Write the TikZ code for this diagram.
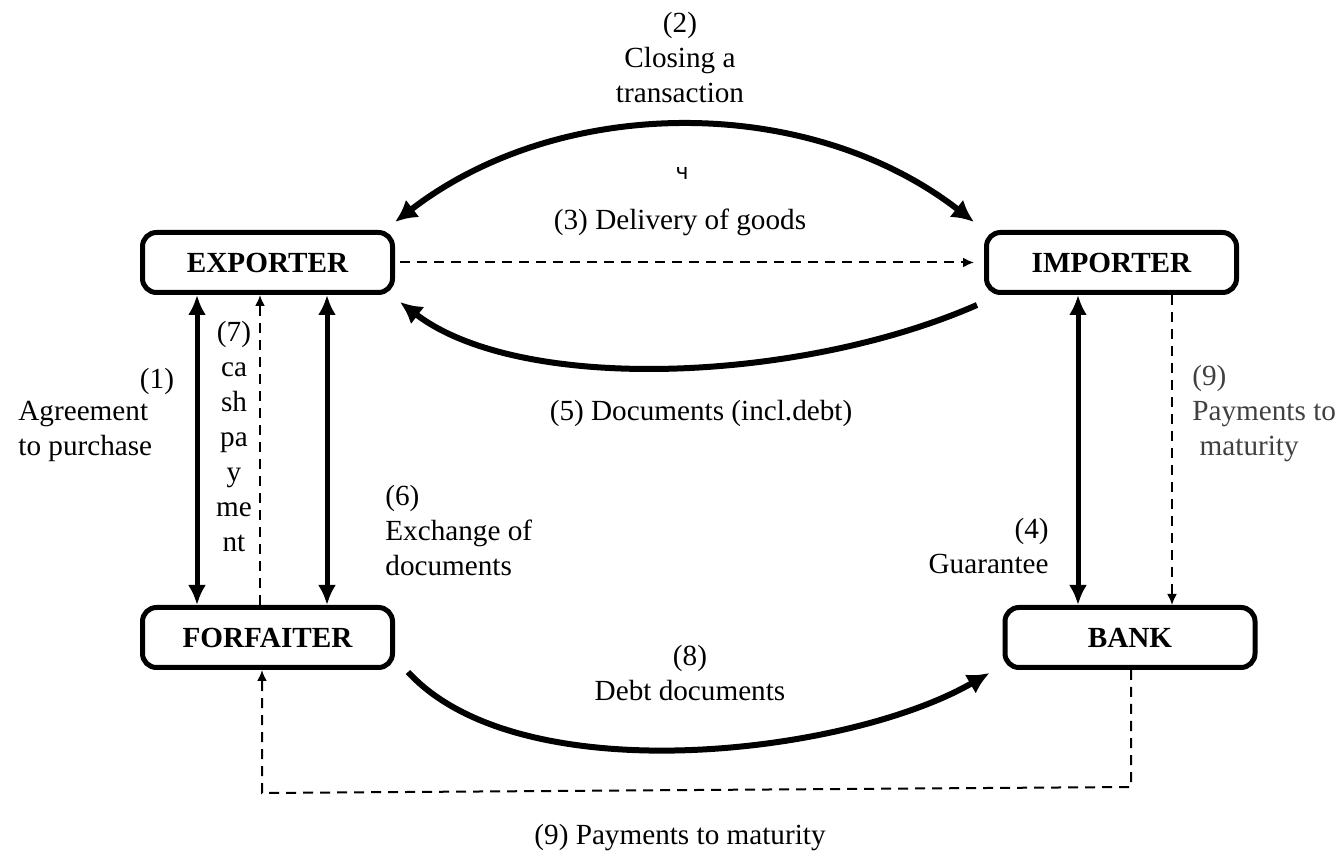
\documentclass[tikz,border=0pt]{standalone}
\usepackage{fontspec}
\setmainfont{Liberation Serif}
\newfontfamily\cyrfont{DejaVu Sans}
\usetikzlibrary{arrows.meta}

\begin{document}
\begin{tikzpicture}[x=0.5pt, y=-0.5pt,
        party/.style={draw, line width=2.5pt, rounded corners=7pt, minimum width=125pt, minimum height=30pt, font=\fontsize{14.6}{17.5}\selectfont\bfseries},
        lbl/.style={font=\fontsize{14.6}{17.5}\selectfont, inner sep=0pt},
        flow/.style={line width=3pt, -{Latex[length=11pt, width=11pt]}},
        link/.style={line width=2.5pt, {Latex[length=10pt, width=9pt]}-{Latex[length=10pt, width=9pt]}},
        pay/.style={line width=1pt, dash pattern=on 5pt off 3.5pt, -{Latex[length=5.5pt, width=5pt]}}]
            \useasboundingbox (0,0) rectangle (1338,854);
            % the four parties
            \node[party] (exp) at (267.5,262.5) {EXPORTER};
            \node[party] (imp) at (1111.5,262.5) {IMPORTER};
            \node[party] (forf) at (267.5,637.5) {FORFAITER};
            \node[party] (bank) at (1130,637.5) {BANK};
            % flows between exporter and importer
            \draw[flow, {Latex[length=11pt, width=11pt]}-{Latex[length=11pt, width=11pt]}] ([yshift=4pt]exp.north east) .. controls +(166,-128) and +(-165,-128) .. ([xshift=-5pt, yshift=4pt]imp.north west);
            \draw[pay] ([xshift=2.5pt]exp.east) -- ([xshift=-5pt]imp.west);
            \draw[flow] ([xshift=-3.5pt, yshift=-5pt]imp.south west) .. controls +(-178,78) and +(120,92) .. ([xshift=2.5pt, yshift=-3.5pt]exp.south east);
            % vertical links
            \foreach \x in {197,327} \draw[link] (exp.south -| \x,0) -- (forf.north -| \x,0);
            \draw[pay] (forf.north -| 260,0) -- (exp.south -| 260,0);
            \draw[link] (imp.south -| 1078,0) -- (bank.north -| 1078,0);
            \draw[pay] (imp.south -| 1172,0) -- (bank.north -| 1172,0);
            % forfaiter and bank
            \draw[flow] ([xshift=6.5pt, yshift=-1pt]forf.south east) .. controls +(112,122) and +(-142,82) .. ([xshift=-6.5pt, yshift=-1.5pt]bank.south west);
            \draw[pay] (bank.south -| 1131,0) -- (1131,787) -- (262,793) -- (forf.south -| 262,0);
            % labels
            \node[lbl, align=center] (l2) at (680,58) {(2)\\Closing a\\transaction};
            \node[lbl, font=\cyrfont\fontsize{11}{12}\selectfont] (lch) at (682,173) {ч};
            \node[lbl] (l3) at (680,222) {(3) Delivery of goods};
            \node[lbl] (l5) at (701,413) {(5) Documents (incl.debt)};
            \node[lbl] (l1) at (157,381) {(1)};
            \node[lbl, align=left, anchor=west] (l1b) at (18,431) {Agreement\\to purchase};
            \node[lbl, align=center] (l7) at (234,437) {(7)\\ca\\sh\\pa\\y\\me\\nt};
            \node[lbl, align=left, anchor=west] (l6) at (385,531) {(6)\\Exchange of\\documents};
            \node[lbl, align=right, anchor=east] (l4) at (1049,546) {(4)\\Guarantee};
            \node[lbl, align=left, anchor=west, text=black!75] (l9a) at (1192,414) {(9)\\Payments to\\\ maturity};
            \node[lbl, align=center] (l8) at (690,673) {(8)\\Debt documents};
            \node[lbl] (l9b) at (680,838) {(9) Payments to maturity};
        \end{tikzpicture}
\end{document}
